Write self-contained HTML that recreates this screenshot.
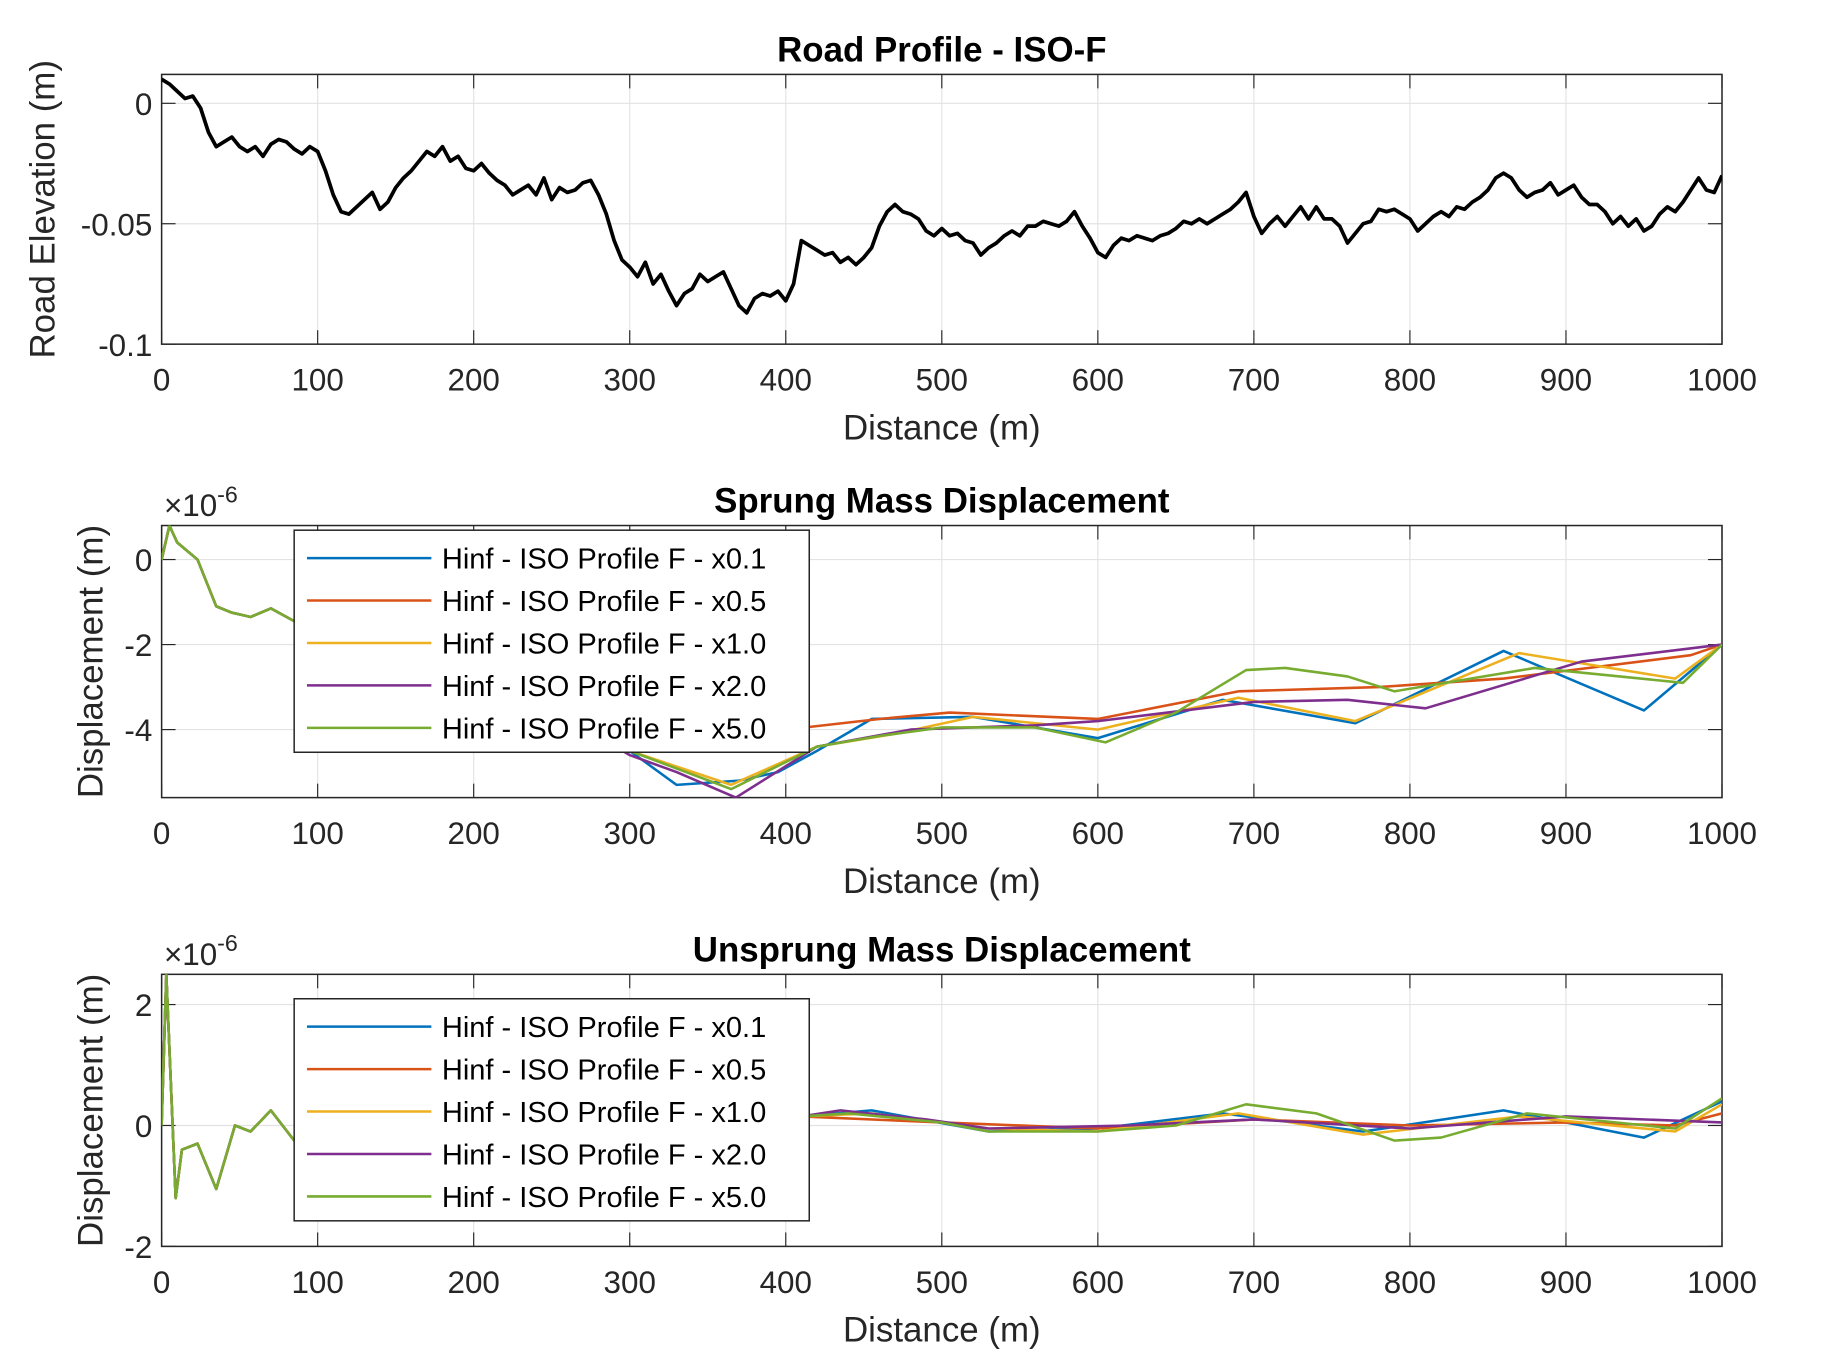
<!DOCTYPE html>
<html><head><meta charset="utf-8"><style>
html,body{margin:0;padding:0;background:#fff;}
svg{display:block;font-family:"Liberation Sans",Arial,sans-serif;}
</style></head><body>
<svg id="fig" width="1822" height="1365" viewBox="0 0 1567 1174" preserveAspectRatio="none" xmlns="http://www.w3.org/2000/svg"></svg>
<script>
const roadX=[];for(let i=0;i<=200;i++)roadX.push(i*5);
const roadY=[10,8,5,2,3,-2,-12,-18,-16,-14,-18,-20,-18,-22,-17,-15,-16,-19,-21,-18,-20,-28,-38,-45,-46,-43,-40,-37,-44,-41,-35,-31,-28,-24,-20,-22,-18,-24,-22,-27,-28,-25,-29,-32,-34,-38,-36,-34,-38,-31,-40,-35,-37,-36,-33,-32,-38,-46,-57,-65,-68,-72,-66,-75,-71,-78,-84,-79,-77,-71,-74,-72,-70,-77,-84,-87,-81,-79,-80,-78,-82,-75,-57,-59,-61,-63,-62,-66,-64,-67,-64,-60,-51,-45,-42,-45,-46,-48,-53,-55,-52,-55,-54,-57,-58,-63,-60,-58,-55,-53,-55,-51,-51,-49,-50,-51,-49,-45,-51,-56,-62,-64,-59,-56,-57,-55,-56,-57,-55,-54,-52,-49,-50,-48,-50,-48,-46,-44,-41,-37,-47,-54,-50,-47,-51,-47,-43,-48,-43,-48,-48,-51,-58,-54,-50,-49,-44,-45,-44,-46,-48,-53,-50,-47,-45,-47,-43,-44,-41,-39,-36,-31,-29,-31,-36,-39,-37,-36,-33,-38,-36,-34,-39,-42,-42,-45,-50,-47,-51,-48,-53,-51,-46,-43,-45,-41,-36,-31,-36,-37,-30];
const seriesNames=["Hinf - ISO Profile F - x0.1","Hinf - ISO Profile F - x0.5","Hinf - ISO Profile F - x1.0","Hinf - ISO Profile F - x2.0","Hinf - ISO Profile F - x5.0"];
const colors=["#0072BD","#D95319","#EDB120","#7E2F8E","#77AC30"];
const sprStartX=[0,5,10,23,35,45,57,70,85,150,250];
const sprStartY=[0,0.8,0.4,0,-1.1,-1.25,-1.35,-1.15,-1.45,-2.5,-3.5];
const sprX=[[300,330,370,395,420,455,520,600,680,765,860,950,1000],[300,350,400,460,505,600,690,780,860,980,1000],[300,365,420,470,520,600,690,765,870,970,1000],[300,330,368,420,480,560,600,700,760,810,910,1000],[300,365,420,460,500,560,605,650,695,720,760,790,880,975,1000]];
const sprY=[[-4.5,-5.3,-5.2,-5.0,-4.5,-3.75,-3.7,-4.2,-3.3,-3.85,-2.15,-3.55,-2.0],[-4.3,-4.5,-4.0,-3.75,-3.6,-3.75,-3.1,-3.0,-2.8,-2.25,-2.0],[-4.5,-5.3,-4.4,-4.1,-3.7,-4.0,-3.25,-3.8,-2.2,-2.8,-2.0],[-4.6,-5.0,-5.6,-4.4,-4.0,-3.9,-3.8,-3.35,-3.3,-3.5,-2.4,-2.0],[-4.5,-5.4,-4.4,-4.15,-3.95,-3.95,-4.3,-3.6,-2.6,-2.55,-2.75,-3.1,-2.55,-2.9,-2.0]];
const unsStartX=[0,3,9,13,23,35,47,57,70,85,200,300];
const unsStartY=[0,2.5,-1.2,-0.4,-0.3,-1.05,0,-0.1,0.25,-0.25,0.1,0.1];
const unsX=[[410,455,530,600,680,770,860,950,1000],[410,500,600,700,800,900,970,1000],[410,455,530,600,690,770,870,970,1000],[410,435,490,530,620,700,800,900,1000],[410,440,500,530,600,650,695,740,790,820,875,970,1000]];
const unsY=[[0.15,0.25,-0.1,-0.05,0.2,-0.1,0.25,-0.2,0.4],[0.15,0.05,-0.05,0.1,0.0,0.05,0.0,0.2],[0.15,0.2,-0.05,-0.1,0.2,-0.15,0.15,-0.1,0.35],[0.15,0.25,0.1,-0.05,0.0,0.1,-0.05,0.15,0.05],[0.15,0.2,0.05,-0.1,-0.1,0.0,0.35,0.2,-0.25,-0.2,0.2,-0.05,0.45]];
const xTicks=[0,100,200,300,400,500,600,700,800,900,1000];

const NS="http://www.w3.org/2000/svg";const svg=document.getElementById('fig');
function mk(t,a,p){const e=document.createElementNS(NS,t);for(const k in a)e.setAttribute(k,a[k]);(p||svg).appendChild(e);return e;}
const L=139,R=1481;const sx=d=>L+(d-0)/1000*(R-L);
function axes(top,bot,yMin,yMax,yTicks,yLab,title,ylabel,pref,exp){
 const g=mk('g',{});
 const sy=v=>bot-(v-yMin)/(yMax-yMin)*(bot-top);
 xTicks.forEach(t=>{mk('line',{x1:sx(t),x2:sx(t),y1:top,y2:bot,stroke:'#e3e3e3','stroke-width':1},g);});
 yTicks.forEach(t=>{mk('line',{x1:L,x2:R,y1:sy(t),y2:sy(t),stroke:'#e3e3e3','stroke-width':1},g);});
 const clip=mk('clipPath',{id:'c'+pref});mk('rect',{x:L,y:top,width:R-L,height:bot-top},clip);
 const box=mk('rect',{x:L,y:top,width:R-L,height:bot-top,fill:'none',stroke:'#262626','stroke-width':1.3},g);
 
 xTicks.forEach(t=>{mk('line',{x1:sx(t),x2:sx(t),y1:bot,y2:bot-12,stroke:'#262626'},g);mk('line',{x1:sx(t),x2:sx(t),y1:top,y2:top+12,stroke:'#262626'},g);
  const tx=mk('text',{x:sx(t),y:bot+40,'text-anchor':'middle','font-size':27,fill:'#262626'},g);tx.textContent=t;});
 yTicks.forEach((t,i)=>{mk('line',{x1:L,x2:L+12,y1:sy(t),y2:sy(t),stroke:'#262626'},g);mk('line',{x1:R,x2:R-12,y1:sy(t),y2:sy(t),stroke:'#262626'},g);
  const tx=mk('text',{x:L-8,y:sy(t)+10,'text-anchor':'end','font-size':27,fill:'#262626'},g);tx.textContent=yLab[i];});
 const xl=mk('text',{x:810,y:bot+82,'text-anchor':'middle','font-size':30,fill:'#262626'},g);xl.textContent='Distance (m)';
 const tt=mk('text',{x:810,y:top-11,'text-anchor':'middle','font-size':30,'font-weight':'bold',fill:'#000'},g);tt.textContent=title;
 const yx=ylabel[1],yy=(top+bot)/2;const yl=mk('text',{x:yx,y:yy,'text-anchor':'middle','font-size':30,fill:'#262626',transform:`rotate(-90 ${yx} ${yy})`},g);yl.textContent=ylabel[0];
 if(exp){const ex=mk('text',{x:141,y:top-8,'font-size':27,fill:'#262626'},g);ex.innerHTML='×10<tspan dy="-12" font-size="20">-6</tspan>';}
 return {sy,clip:'url(#c'+pref+')'};
}
function line(xs,ys,sy,col,w,cp,name){const p=mk('polyline',{points:xs.map((x,i)=>sx(x)+','+sy(ys[i])).join(' '),fill:'none',stroke:col,'stroke-width':w,'stroke-linejoin':'round','clip-path':cp});}
function legend(top,pref){const g=mk('g',{});
 mk('rect',{x:253,y:top,width:443,height:191,fill:'#fff',stroke:'#262626','stroke-width':1.3},g);
 seriesNames.forEach((n,i)=>{const y=top+24+i*36.5;mk('line',{x1:264,x2:371,y1:y,y2:y,stroke:colors[i],'stroke-width':2.2},g);
  const t=mk('text',{x:380,y:y+9,'font-size':25,fill:'#000'},g);t.textContent=n;});}

const a1=axes(64,296,-0.1,0.012,[-0.1,-0.05,0],['-0.1','-0.05','0'],'Road Profile - ISO-F',['Road Elevation (m)',47],'road',false);
line(roadX,roadY.map(v=>v/1000),a1.sy,'#000',3.2,a1.clip,'road-profile-line');
const a2=axes(452,686,-5.6,0.8,[-4,-2,0],['-4','-2','0'],'Sprung Mass Displacement',['Displacement (m)',88],'sprung',true);
for(let i=0;i<5;i++)line(sprStartX.concat(sprX[i]),sprStartY.concat(sprY[i]),a2.sy,colors[i],2.2,a2.clip,'sprung-series-'+i);
legend(456,'sprung');
const a3=axes(838,1072,-2,2.5,[-2,0,2],['-2','0','2'],'Unsprung Mass Displacement',['Displacement (m)',88],'unsprung',true);
for(let i=0;i<5;i++)line(unsStartX.concat(unsX[i]),unsStartY.concat(unsY[i]),a3.sy,colors[i],2.2,a3.clip,'unsprung-series-'+i);
legend(859,'unsprung');
</script>
</body></html>
